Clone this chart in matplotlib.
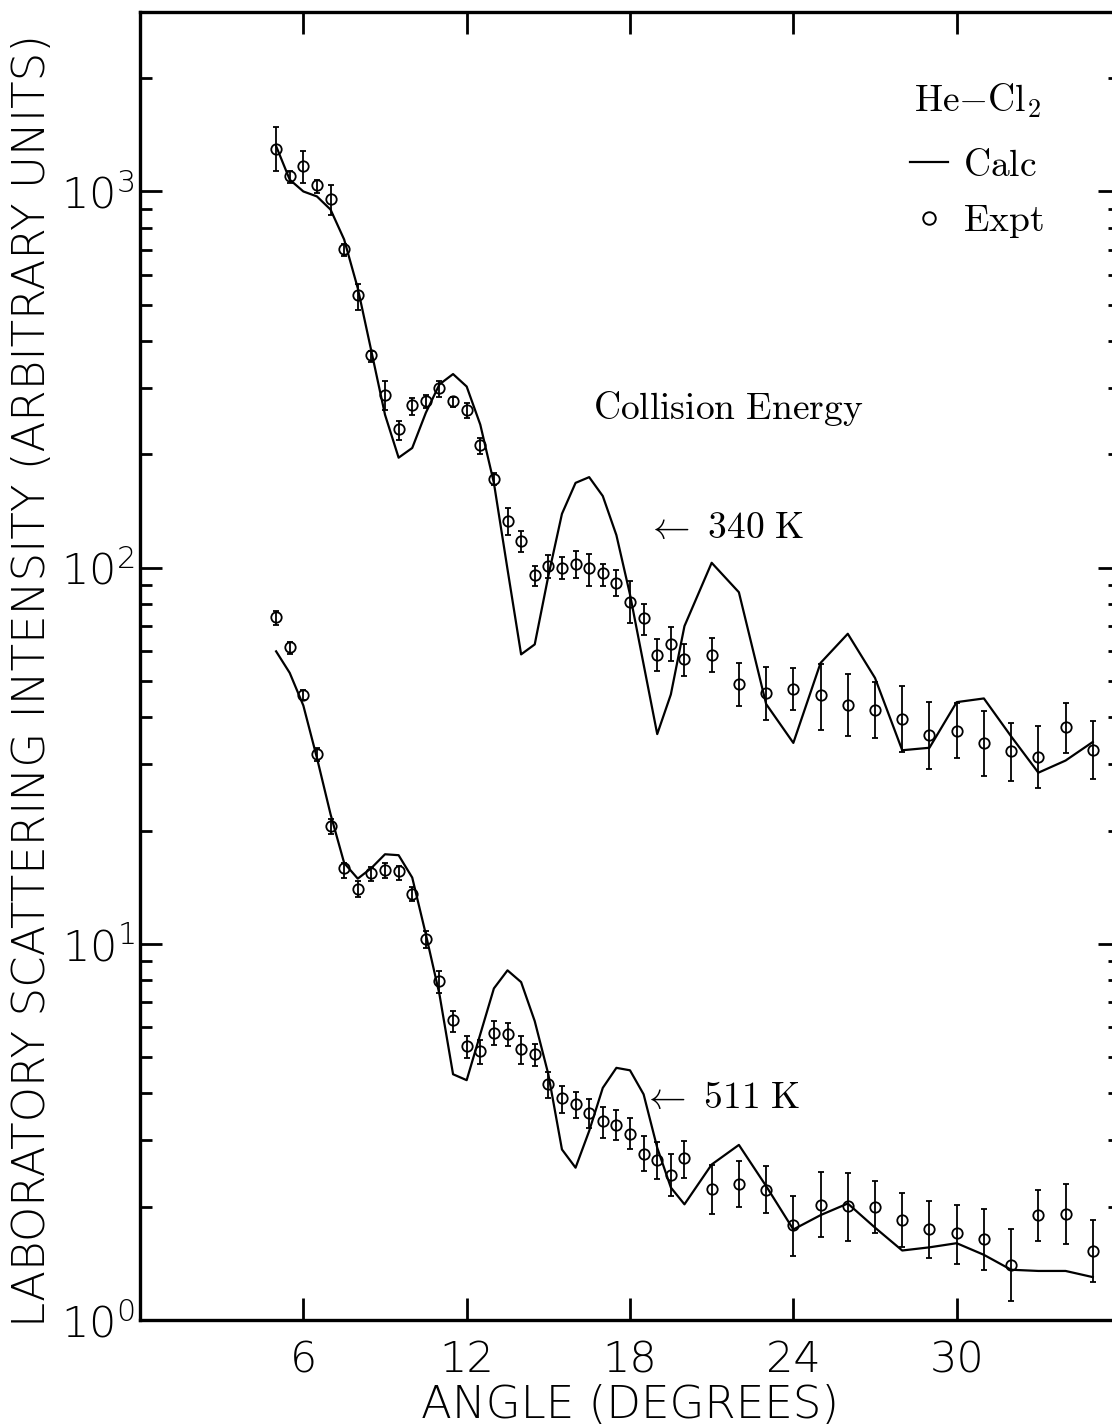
import numpy as np
import matplotlib
matplotlib.use("Agg")
import matplotlib.pyplot as plt
from matplotlib.lines import Line2D
from matplotlib.ticker import FixedLocator, LogLocator, FuncFormatter, NullFormatter

plt.rcParams['mathtext.fontset'] = 'cm'
plt.rcParams['font.family'] = ['DejaVu Sans']

# Laboratory scattering angle (degrees)
angle = [5.0, 5.5, 6.0, 6.5, 7.0, 7.5, 8.0, 8.5, 9.0, 9.5,
         10.0, 10.5, 11.0, 11.5, 12.0, 12.5, 13.0, 13.5, 14.0, 14.5,
         15.0, 15.5, 16.0, 16.5, 17.0, 17.5, 18.0, 18.5, 19.0, 19.5,
         20.0, 21.0, 22.0, 23.0, 24.0, 25.0, 26.0, 27.0, 28.0, 29.0,
         30.0, 31.0, 32.0, 33.0, 34.0, 35.0]

# 340 K collision energy
calc_340 = [1320, 1075, 1000, 970, 895, 745, 553, 376, 255, 196,
            208, 258, 307, 327, 303, 240, 168, 99, 58.8, 62.5,
            95, 139, 168, 174, 155, 122, 84.8, 55.3, 36.1, 46,
            69.9, 103, 86, 43.4, 34.2, 55.8, 66.7, 50.9, 32.7, 33.2,
            43.9, 44.9, 35.6, 28.5, 30.7, 34.4]
expt_340 = [1300, 1097, 1167, 1038, 953, 705, 529, 367, 287, 234,
            270, 277, 301, 278, 263, 212, 172, 133, 118, 95.4,
            101, 100, 102, 99.5, 96.5, 91, 81, 73.3, 58.7, 62.8,
            57, 58.7, 49.1, 46.5, 47.6, 45.8, 43.1, 41.9, 39.7, 35.9,
            36.8, 34.1, 32.5, 31.3, 37.6, 32.8]
expt_340_hi = [1480, 1130, 1279, 1075, 1038, 725, 569, 376, 313, 246,
               282, 287, 314, 285, 274, 221, 179, 144, 125, 101,
               108, 107, 111, 109, 102, 98.3, 92.0, 80.1, 64.8, 69.5,
               62.8, 65.1, 55.8, 54.4, 54.1, 55.6, 52.0, 49.7, 48.4, 44.0,
               43.7, 41.7, 38.6, 37.9, 43.7, 39.2]
expt_340_lo = [1136, 1052, 1052, 990, 867, 672, 485, 352, 263, 219,
               255, 266, 285, 268, 250, 201, 166, 122, 110, 89.1,
               93.9, 93.0, 93.9, 89.3, 89.1, 83.9, 71.3, 66.1, 53.1, 56.6,
               51.4, 52.8, 43.0, 39.3, 41.8, 37.1, 35.6, 35.2, 32.4, 29.2,
               31.2, 27.9, 27.1, 25.9, 32.1, 27.4]

# 511 K collision energy
calc_511 = [59.9, 52.5, 43.0, 31.2, 22.1, 16.4, 14.9, 15.9, 17.3, 17.2,
            15.0, 10.6, 7.34, 4.50, 4.34, 5.75, 7.61, 8.5, 7.91, 6.23,
            4.50, 2.84, 2.54, 3.18, 4.14, 4.68, 4.61, 3.98, 2.87, 2.25,
            2.03, 2.59, 2.92, 2.27, 1.74, 1.90, 2.04, 1.76, 1.53, 1.56,
            1.60, 1.49, 1.36, 1.35, 1.35, 1.30]
expt_511 = [73.8, 61.5, 45.8, 31.9, 20.6, 15.9, 14.0, 15.4, 15.7, 15.6,
            13.6, 10.3, 7.96, 6.26, 5.35, 5.19, 5.80, 5.74, 5.24, 5.08,
            4.23, 3.88, 3.74, 3.54, 3.37, 3.30, 3.13, 2.77, 2.66, 2.43,
            2.69, 2.23, 2.30, 2.22, 1.79, 2.02, 2.01, 2.00, 1.84, 1.74,
            1.70, 1.64, 1.40, 1.90, 1.91, 1.53]
expt_511_hi = [76.9, 63.4, 47.2, 33.2, 21.5, 16.4, 14.7, 16.0, 16.4, 16.1,
               14.2, 10.8, 8.46, 6.63, 5.69, 5.54, 6.23, 6.17, 5.69, 5.40,
               4.57, 4.19, 4.04, 3.86, 3.69, 3.61, 3.45, 3.08, 2.98, 2.77,
               2.99, 2.59, 2.65, 2.57, 2.13, 2.47, 2.46, 2.34, 2.17, 2.07,
               2.02, 1.97, 1.75, 2.21, 2.30, 1.84]
expt_511_lo = [70.6, 59.0, 44.6, 30.6, 19.6, 15.0, 13.3, 14.7, 15.0, 14.8,
               13.0, 9.76, 7.41, 5.84, 4.98, 4.80, 5.37, 5.35, 4.80, 4.73,
               3.90, 3.56, 3.44, 3.24, 3.05, 3.00, 2.84, 2.49, 2.37, 2.14,
               2.38, 1.91, 2.00, 1.92, 1.48, 1.66, 1.62, 1.70, 1.56, 1.46,
               1.41, 1.36, 1.12, 1.62, 1.59, 1.26]

x_ticks = [6, 12, 18, 24, 30]
x_limits = (0, 36)
y_limits = (1.0, 3000.0)

fig = plt.figure(figsize=(11.12, 14.25), dpi=100)
ax = fig.add_axes([0.1259, 0.0737, 0.8813, 0.9179])

label_font = dict(family='DejaVu Sans', fontsize=32.5, weight='light')


def draw_set(calc, expt, lo, hi):
    x = np.array(angle)
    y = np.array(expt)
    ax.plot(x, calc, color='black', lw=1.6, zorder=3)
    yerr = [y - np.array(lo), np.array(hi) - y]
    ax.errorbar(x, y, yerr=yerr, fmt='o', ms=7.5, mfc='none', mec='black',
                mew=1.3, ecolor='black', elinewidth=1.3, capsize=2,
                capthick=1.3, zorder=4)


draw_set(calc_340, expt_340, expt_340_lo, expt_340_hi)
draw_set(calc_511, expt_511, expt_511_lo, expt_511_hi)

ax.set_yscale('log')
ax.set_xlim(*x_limits)
ax.set_ylim(*y_limits)

ax.xaxis.set_major_locator(FixedLocator(x_ticks))
ax.yaxis.set_major_locator(LogLocator(base=10, numticks=10))
ax.yaxis.set_minor_locator(LogLocator(base=10, subs=np.arange(2, 10), numticks=20))
ax.yaxis.set_minor_formatter(NullFormatter())
ax.yaxis.set_major_formatter(
    FuncFormatter(lambda v, pos: r'$\mathregular{10^{%d}}$' % int(round(np.log10(v)))))

ax.tick_params(which='both', direction='in', top=True, right=True, color='black')
ax.tick_params(which='major', length=16, width=2.0, labelsize=31)
ax.tick_params(axis='x', which='major', pad=14)
ax.tick_params(axis='y', which='major', pad=4)
ax.tick_params(which='minor', length=8.5, width=2.0)
for lab in ax.get_xticklabels() + ax.get_yticklabels():
    lab.set_fontweight('light')

for sp in ax.spines.values():
    sp.set_linewidth(2.4)

ax.set_xlabel('ANGLE (DEGREES)', **label_font)
ax.set_ylabel('LABORATORY SCATTERING INTENSITY (ARBITRARY UNITS)', **label_font)
ax.xaxis.set_label_coords(0.5, -0.0655)
ax.xaxis.label.set_verticalalignment('center')
ax.yaxis.set_label_coords(-0.110, 0.489)
ax.yaxis.label.set_verticalalignment('center')

# Annotations
ax.text(0.600, 0.697, r'$\mathrm{Collision\ Energy}$', transform=ax.transAxes,
        fontsize=27, ha='center', va='center')
ax.text(0.516, 0.6055, r'$\leftarrow\ \mathrm{340\ K}$', transform=ax.transAxes,
        fontsize=27, ha='left', va='center')
ax.text(0.512, 0.170, r'$\leftarrow\ \mathrm{511\ K}$', transform=ax.transAxes,
        fontsize=27, ha='left', va='center')

handles = [Line2D([], [], color='black', lw=1.6),
           Line2D([], [], color='black', marker='o', ls='none', ms=9,
                  mfc='none', mew=1.4)]
leg = ax.legend(handles, [r'$\mathrm{Calc}$', r'$\mathrm{Expt}$'],
                title=r'$\mathrm{He{-}Cl_2}$', title_fontsize=27, fontsize=27,
                loc='upper right', bbox_to_anchor=(0.922, 0.947), frameon=False,
                handlelength=1.0, handletextpad=0.4, labelspacing=0.52,
                borderpad=0.0, borderaxespad=0.0)
leg._legend_box.sep = 20

fig.savefig('out.png', dpi=100)
